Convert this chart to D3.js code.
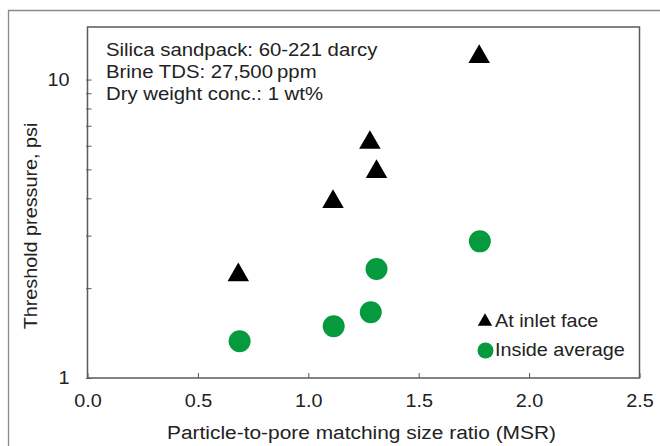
<!DOCTYPE html>
<html><head><meta charset="utf-8">
<script src="https://cdn.jsdelivr.net/npm/d3@7"></script>
<style>body{margin:0;background:#fff}svg{display:block}text{font-family:"Liberation Sans",Arial,sans-serif;fill:#222}</style>
</head><body>
<svg id="c" width="660" height="446"></svg>
<script>
const msrInlet = [0.683, 1.112, 1.279, 1.309, 1.774];
const pInlet   = [2.24, 3.94, 6.22, 4.97, 12.06];
const msrInside = [0.689, 1.115, 1.283, 1.309, 1.777];
const pInside   = [1.327, 1.49, 1.66, 2.32, 2.87];
const xTicks = [0, 0.5, 1.0, 1.5, 2.0, 2.5];
const yMajor = [1, 10];
const yMinor = [2,3,4,5,6,7,8,9];
const notes = ["Silica sandpack: 60-221 darcy","Brine TDS: 27,500\u2009ppm","Dry weight conc.: 1 wt%"];
const legendLabels = ["At inlet face","Inside average"];
const green = "#069a3e";
const SX = 1.1;

function stretch(sel){
  sel.each(function(){
    const t=d3.select(this);
    const x=+t.attr("x")||0, y=+t.attr("y")||0;
    t.attr("x",0).attr("y",0).attr("transform",`translate(${x},${y}) scale(${SX},1)`);
  });
}

const svg = d3.select("#c");
const L=87.5, T=27, R=639.5, B=378;
const x = d3.scaleLinear().domain([0,2.5]).range([L,R]);
const y = d3.scaleLog().domain([1,15]).range([B,T]);

// outer frame
svg.append("path").attr("d",`M8.5,446 V10.5 H660`).attr("fill","none").attr("stroke","#8a8a8a").attr("stroke-width",1.3);

// plot frame
svg.append("rect").attr("x",L).attr("y",T).attr("width",R-L).attr("height",B-T)
  .attr("fill","none").attr("stroke","#5a5a5a").attr("stroke-width",1.5);

// x axis ticks (inward)
const xa = svg.append("g").attr("transform",`translate(0,${B})`)
  .call(d3.axisBottom(x).tickValues(xTicks).tickFormat(d3.format(".1f")).tickSize(-5).tickPadding(16));
xa.select(".domain").remove();
xa.selectAll("line").attr("stroke","#5a5a5a");
xa.selectAll("text").style("font-size","18px").attr("fill","#222").call(stretch);

// y axis
const ya = svg.append("g").attr("transform",`translate(${L},0)`)
  .call(d3.axisLeft(y).tickValues(yMajor.concat(yMinor)).tickFormat(d=>yMajor.includes(d)?d3.format("d")(d):"").tickSize(-4).tickPadding(18));
ya.select(".domain").remove();
ya.selectAll("line").attr("stroke","#5a5a5a").attr("x1",-1.5);
ya.selectAll("text").style("font-size","18px").attr("fill","#222").call(stretch);

// axis titles
svg.append("text").attr("transform",`translate(${(L+R)/2-2},439) scale(${SX},1)`).attr("text-anchor","middle").style("font-size","19px").text("Particle-to-pore matching size ratio (MSR)");
svg.append("text").attr("transform",`translate(37,226) rotate(-90) scale(${SX},1)`).attr("text-anchor","middle").style("font-size","18px").text("Threshold pressure, psi");

// notes
svg.selectAll("text.note").data(notes).enter().append("text").attr("class","note")
  .attr("x",106).attr("y",(d,i)=>56+i*22).style("font-size","18.5px").text(d=>d).call(stretch);

// data
const tri = d3.symbol().type(d3.symbolTriangle);
svg.selectAll("circle.in").data(msrInside).enter().append("circle").attr("class","in")
  .attr("cx",d=>x(d)).attr("cy",(d,i)=>y(pInside[i])).attr("r",11).attr("fill",green);
svg.selectAll("path.tri").data(msrInlet).enter().append("path").attr("class","tri")
  .attr("d",tri.size(200)()).attr("transform",(d,i)=>`translate(${x(d)},${y(pInlet[i])+1.5})`).attr("fill","#000");

// legend
svg.append("path").attr("d",tri.size(90)()).attr("transform","translate(485,321.5)").attr("fill","#000");
svg.append("circle").attr("cx",485.5).attr("cy",350.5).attr("r",8).attr("fill",green);
svg.selectAll("text.leg").data(legendLabels).enter().append("text").attr("class","leg")
  .attr("x",495).attr("y",(d,i)=>327+i*29).style("font-size","18px").text(d=>d).call(stretch);
</script>
</body></html>
